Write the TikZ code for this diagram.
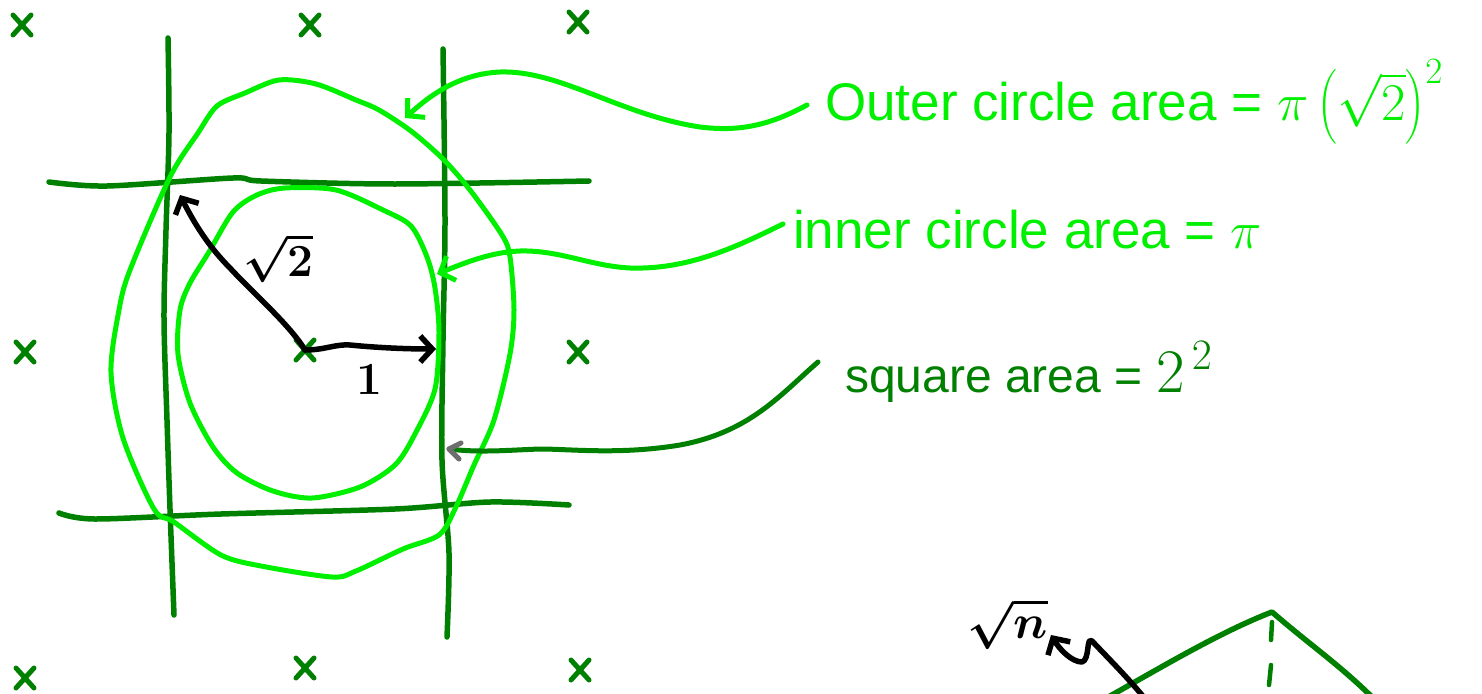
\RequirePackage{fix-cm}
\documentclass[tikz,border=0pt]{standalone}
\usepackage{amsmath}
\usepackage{fontspec}
\setmainfont{Liberation Sans}
\usetikzlibrary{arrows.meta}
\definecolor{dkgreen}{RGB}{0,128,0}
\definecolor{ltgreen}{RGB}{0,240,0}
\definecolor{tipgray}{RGB}{110,110,110}
\begin{document}
\begin{tikzpicture}[x=1pt,y=-1pt,
  line cap=round, line join=round,
  gridline/.style={draw=dkgreen, line width=5.5pt},
  circ/.style={draw=ltgreen, line width=5pt},
  blackarrow/.style={draw=black, line width=5.5pt, -{Straight Barb[length=12pt,width=26pt]}},
  leaderlt/.style={draw=ltgreen, line width=5pt, -{Straight Barb[length=12pt,width=26pt]}},
  leaderdk/.style={draw=dkgreen, line width=5pt},
  labellt/.style={text=ltgreen, anchor=base west, inner sep=0pt, font=\fontsize{53}{58}\selectfont},
  labeldk/.style={text=dkgreen, anchor=base west, inner sep=0pt, font=\fontsize{48}{52}\selectfont},
  mathlabel/.style={text=black, inner sep=0pt, font=\fontsize{46}{50}\selectfont\boldmath},
  xmark/.pic={\draw[dkgreen, line width=5pt] (-9,-10) -- (9,10) (-9,10) -- (9,-10);}
]
\useasboundingbox (0,0) rectangle (1482,693);
\fill[white] (0,0) rectangle (1482,693);

% cross marks
\foreach \px/\py in {22/25, 310/25, 578/22, 25/352, 578/352, 25/678, 305/668, 580/670}
  \pic at (\px,\py) {xmark};
\coordinate (O) at (305,350);
\pic at (O) {xmark};

% grid lines
\draw[gridline] plot[smooth] coordinates {(168,38) (169,133) (166,230) (164,319) (167,420) (170,509) (174,615)};
\draw[gridline] plot[smooth] coordinates {(443,49) (445,221) (443,340) (442,460) (449,553) (447,637)};
\draw[gridline] plot[smooth] coordinates {(49,182) (107,186) (233,178) (261,181) (395,184) (589,181)};
\draw[gridline] plot[smooth] coordinates {(59,513) (95,519) (221,514) (395,509) (490,502) (569,505)};

% outer circle
\draw[circ] plot[smooth cycle] coordinates {(279,80) (316,84) (356,100) (379,110) (411,131) (443,159) (470,190) (502,235) (510,257) (514,310) (510,354) (494,420) (474,465) (455,509) (439,535) (403,549) (356,571) (332,577) (261,566) (221,555) (174,522) (154,509) (123,438) (111,372) (119,310) (130,270) (170,177) (198,133) (217,106) (245,93)};

% inner circle
\draw[circ] plot[smooth cycle] coordinates {(285,188) (336,190) (383,210) (411,226) (427,257) (435,288) (439,332) (435,389) (415,434) (395,465) (360,487) (312,498) (273,491) (237,473) (213,447) (190,403) (178,354) (180,310) (190,283) (209,252) (233,212) (257,195)};

% radius arrows
\coordinate (C1) at (180,195);
\coordinate (C2) at (436,349);
\draw[blackarrow] (O) .. controls (290,325) and (250,290) .. (230,268) .. controls (210,248) and (195,225) .. (C1);
\draw[blackarrow] (O) .. controls (325,350) and (335,344) .. (350,345) .. controls (380,348) and (410,349) .. (C2);
\node[mathlabel] (r2) at (278,258) {$\sqrt{2}$};
\node[mathlabel] (r1) at (369,380) {$1$};

% labels
\node[labellt] (outer) at (825,120) {Outer circle area = $\pi\left(\sqrt{2}\right)^{2}$};
\node[labellt] (inner) at (793,248) {inner circle area = $\pi$};
\node[labeldk] (square) at (845,392) {square area = {\fontsize{62}{66}\selectfont$2^{\,2}$}};

% leaders
\coordinate (outerpt) at (405,118);
\coordinate (innerpt) at (437,274);
\coordinate (squarept) at (449,449);
\draw[leaderlt] ([xshift=-18pt]outer.west |- 0,105) .. controls (770,125) and (740,132) .. (700,127) .. controls (620,115) and (560,70) .. (500,72) .. controls (455,74) and (425,100) .. (outerpt);
\draw[leaderlt] ([xshift=-10pt]inner.west |- 0,224) .. controls (740,245) and (690,270) .. (630,268) .. controls (590,266) and (560,250) .. (520,251) .. controls (490,252) and (462,264) .. (innerpt);
\draw[leaderdk] ([xshift=-27pt]square.west |- 0,362) .. controls (780,395) and (750,432) .. (680,445) .. controls (620,455) and (570,449) .. (540,449) .. controls (510,450) and (480,453) .. (squarept);
\draw[tipgray, line width=5pt] (461,443) -- (squarept) -- (459,459);

% bottom right sketch
\coordinate (peak) at (1272,612);
\draw[gridline] (1103,700) .. controls (1160,668) and (1220,632) .. (peak) .. controls (1310,645) and (1340,665) .. (1375,700);
\draw[draw=dkgreen, line width=4.5pt] (1272,622) -- (1271,640) (1271,665) -- (1269,685);
\node[mathlabel, font=\fontsize{48}{52}\selectfont\boldmath] (sqn) at (1008,624) {$\sqrt{n}$};
\coordinate (sqnpt) at (1051,635);
\draw[blackarrow] (1146,700) .. controls (1130,680) and (1110,660) .. (1092,641) .. controls (1086,636) and (1090,660) .. (1082,662) .. controls (1072,662) and (1060,650) .. (sqnpt);
\end{tikzpicture}
\end{document}
